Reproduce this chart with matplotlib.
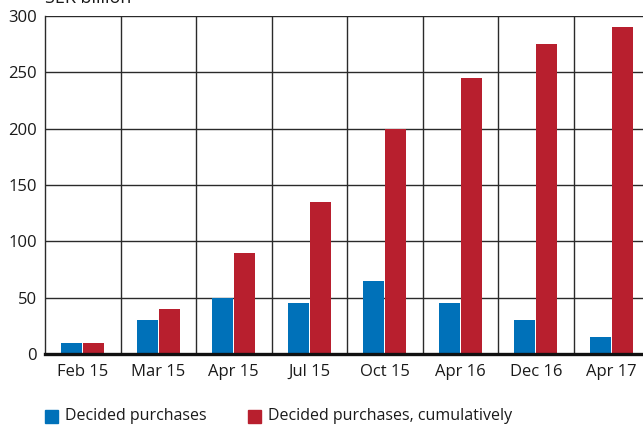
import matplotlib
matplotlib.use("Agg")
import matplotlib.pyplot as plt
import numpy as np
from matplotlib.patches import Rectangle

months = ["Feb 15", "Mar 15", "Apr 15", "Jul 15", "Oct 15", "Apr 16", "Dec 16", "Apr 17"]
decided = [10, 30, 50, 45, 65, 45, 30, 15]
cumulative = [10, 40, 90, 135, 200, 245, 275, 290]
y_ticks = [0, 50, 100, 150, 200, 250, 300]

blue = "#0071b9"
red = "#b81f2e"
grid_col = "#2a2a2a"
text_col = "#1a1a1a"

plt.rcParams["font.family"] = ["Open Sans", "DejaVu Sans"]

W, H = 643, 428
fig = plt.figure(figsize=(W / 100, H / 100), dpi=100)
# axes spans 8 groups of ~75.5 px; the right edge runs past the canvas
left, right, top, bottom = 45, 649, 16, 354
ax = fig.add_axes([left / W, 1 - bottom / H, (right - left) / W, (bottom - top) / H])

x = np.arange(len(months))
bw = 0.28
gap = 0.015
ax.bar(x - bw / 2 - gap / 2, decided, width=bw, color=blue, zorder=3)
ax.bar(x + bw / 2 + gap / 2, cumulative, width=bw, color=red, zorder=3)

ax.set_xlim(-0.5, len(months) - 0.5)
ax.set_ylim(0, 300)
ax.set_yticks(y_ticks)
ax.set_xticks(x)
ax.set_xticklabels(months)

for v in y_ticks[1:]:
    ax.axhline(v, color=grid_col, lw=1.0, zorder=1)
for b in np.arange(0.5, len(months) - 0.5, 1.0):
    ax.axvline(b, color=grid_col, lw=1.0, zorder=1)

for s in ["top", "right", "bottom"]:
    ax.spines[s].set_visible(False)
ax.spines["left"].set_color(grid_col)
ax.spines["left"].set_linewidth(1.0)
ax.axhline(0, color="#111111", lw=2.4, zorder=4, clip_on=False)

ax.tick_params(axis="both", length=0, colors=text_col)
ax.tick_params(axis="y", pad=6, labelsize=12)
ax.tick_params(axis="x", pad=7, labelsize=12)

fig.text(left / W, 1 - 3 / H, "SEK billion", fontsize=13, color=text_col,
         ha="left", va="baseline")

# legend drawn as squares and labels below the axes
ly = 1 - 416 / H
sq = 13
fig.patches.append(Rectangle((45 / W, ly - sq / 2 / H), sq / W, sq / H,
                             color=blue, transform=fig.transFigure))
fig.text(65 / W, ly, "Decided purchases", fontsize=11.5, color=text_col,
         ha="left", va="center")
fig.patches.append(Rectangle((248 / W, ly - sq / 2 / H), sq / W, sq / H,
                             color=red, transform=fig.transFigure))
fig.text(268 / W, ly, "Decided purchases, cumulatively", fontsize=11.5,
         color=text_col, ha="left", va="center")

fig.savefig("out.png", dpi=100)
